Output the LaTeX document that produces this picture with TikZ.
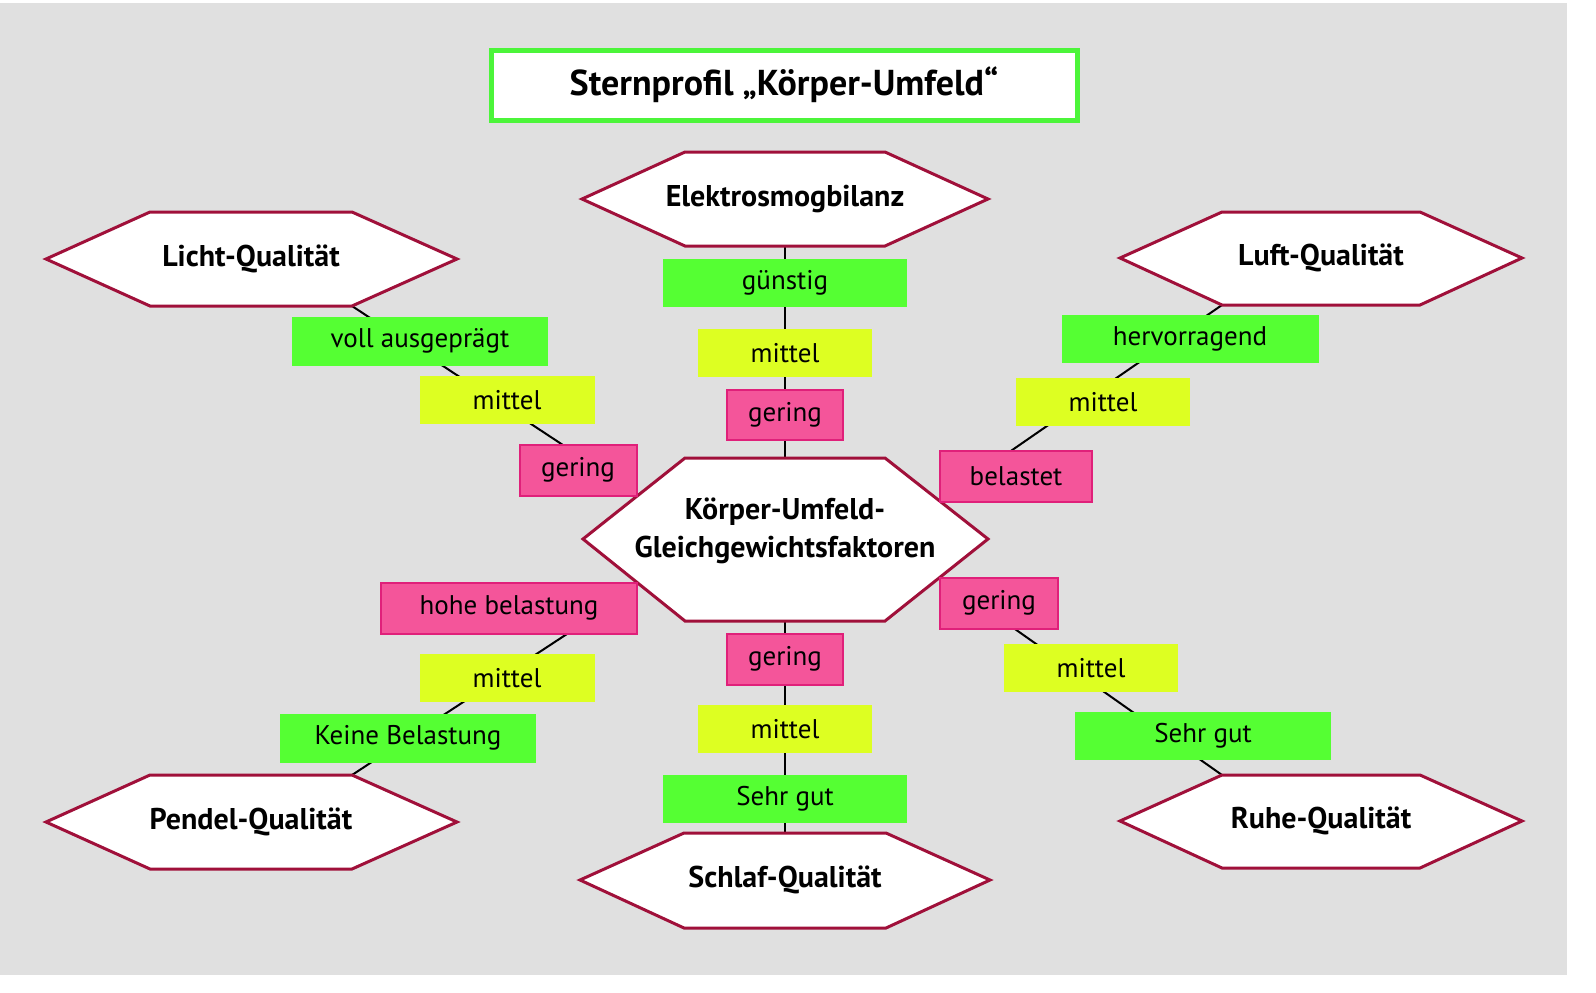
\documentclass[tikz,border=0pt]{standalone}
\usepackage{fontspec}
\setmainfont{PT Sans}
\definecolor{bg}{HTML}{E0E0E0}
\definecolor{tgreen}{HTML}{4CF53A}
\definecolor{lgreen}{HTML}{55FF33}
\definecolor{lyel}{HTML}{DDFF22}
\definecolor{lpink}{HTML}{F4559A}
\definecolor{pinkb}{HTML}{E0207A}
\definecolor{hexb}{HTML}{A0103A}
\tikzset{
 lbl/.style={inner sep=0pt,font=\fontsize{13.5}{15}\selectfont},
 gb/.style={lbl,fill=lgreen},
 yb/.style={lbl,fill=lyel},
 pb/.style={lbl,fill=lpink,draw=pinkb,line width=1pt},
 hexline/.style={draw=hexb,fill=white,line width=1.5pt,line join=miter},
 hexlbl/.style={font=\bfseries\fontsize{15}{19}\selectfont,align=center},
 conn/.style={line width=1pt,black}
}
\begin{document}
\begin{tikzpicture}[x=0.5pt,y=-0.5pt]
\useasboundingbox (0,0) rectangle (1596,992);
\fill[bg] (0,3) rectangle (1567,975);
% title
\node[draw=tgreen,line width=2.5pt,fill=white,minimum width=293pt,minimum height=35pt,font=\bfseries\fontsize{18}{20}\selectfont] (title) at (784,85) {Sternprofil „Körper-Umfeld“};
% connectors
\coordinate (cT) at (785,458); \coordinate (cB) at (785,621);
\coordinate (cUL) at (610,476); \coordinate (cUR) at (1005,455);
\coordinate (cLL) at (570,632); \coordinate (cLR) at (1005,622);
\coordinate (eB) at (785,246); \coordinate (sT) at (785,833);
\coordinate (lB) at (352,306); \coordinate (fB) at (1222,305);
\coordinate (pT) at (352,775); \coordinate (rT) at (1222,775);
\draw[conn] (eB) -- (cT);
\draw[conn] (sT) -- (cB);
\draw[conn] (lB) -- (cUL);
\draw[conn] (fB) -- (cUR);
\draw[conn] (pT) -- (cLL);
\draw[conn] (rT) -- (cLR);
% hexagons
\filldraw[hexline] (583,539)--(685,458)--(885,458)--(988,539)--(885,621)--(685,621)--cycle;
\filldraw[hexline] (582,199)--(685,152)--(885,152)--(988,199)--(885,246)--(685,246)--cycle;
\filldraw[hexline] (46,259)--(150,212)--(352,212)--(457,259)--(352,306)--(150,306)--cycle;
\filldraw[hexline] (1120,258)--(1222,212)--(1420,212)--(1522,258)--(1420,305)--(1222,305)--cycle;
\filldraw[hexline] (46,822)--(150,775)--(352,775)--(457,822)--(352,869)--(150,869)--cycle;
\filldraw[hexline] (580,880)--(684,833)--(886,833)--(990,880)--(886,928)--(684,928)--cycle;
\filldraw[hexline] (1120,821)--(1222,775)--(1420,775)--(1522,821)--(1420,868)--(1222,868)--cycle;
\node[hexlbl] (center) at (785,531) {Körper-Umfeld-\\Gleichgewichtsfaktoren};
\node[hexlbl] (elektro) at (785,199) {Elektrosmogbilanz};
\node[hexlbl] (licht) at (251,259) {Licht-Qualität};
\node[hexlbl] (luft) at (1321,258) {Luft-Qualität};
\node[hexlbl] (pendel) at (251,822) {Pendel-Qualität};
\node[hexlbl] (schlaf) at (785,880) {Schlaf-Qualität};
\node[hexlbl] (ruhe) at (1321,821) {Ruhe-Qualität};
% label boxes
\node[gb,minimum width=122pt,minimum height=24pt] (a1) at (785,283) {günstig};
\node[yb,minimum width=87pt,minimum height=24pt] (a2) at (785,353) {mittel};
\node[pb,minimum width=58pt,minimum height=25pt] (a3) at (785,415) {gering};
\node[gb,minimum width=128pt,minimum height=24.5pt] (b1) at (420,341) {voll ausgeprägt};
\node[yb,minimum width=87.5pt,minimum height=24pt] (b2) at (507,400) {mittel};
\node[pb,minimum width=58.5pt,minimum height=25.5pt] (b3) at (578,470) {gering};
\node[gb,minimum width=128.5pt,minimum height=24pt] (c1) at (1190,339) {hervorragend};
\node[yb,minimum width=87pt,minimum height=24pt] (c2) at (1103,402) {mittel};
\node[pb,minimum width=76pt,minimum height=25.5pt] (c3) at (1016,476) {belastet};
\node[pb,minimum width=128pt,minimum height=25.5pt] (d1) at (509,608) {hohe belastung};
\node[yb,minimum width=87.5pt,minimum height=24pt] (d2) at (507,678) {mittel};
\node[gb,minimum width=128pt,minimum height=24.5pt] (d3) at (408,738) {Keine Belastung};
\node[pb,minimum width=58pt,minimum height=25.5pt] (e1) at (785,659) {gering};
\node[yb,minimum width=87pt,minimum height=24pt] (e2) at (785,729) {mittel};
\node[gb,minimum width=122pt,minimum height=24pt] (e3) at (785,799) {Sehr gut};
\node[pb,minimum width=59pt,minimum height=25.5pt] (f1) at (999,603) {gering};
\node[yb,minimum width=87pt,minimum height=24pt] (f2) at (1091,668) {mittel};
\node[gb,minimum width=128pt,minimum height=24pt] (f3) at (1203,736) {Sehr gut};
\end{tikzpicture}
\end{document}
